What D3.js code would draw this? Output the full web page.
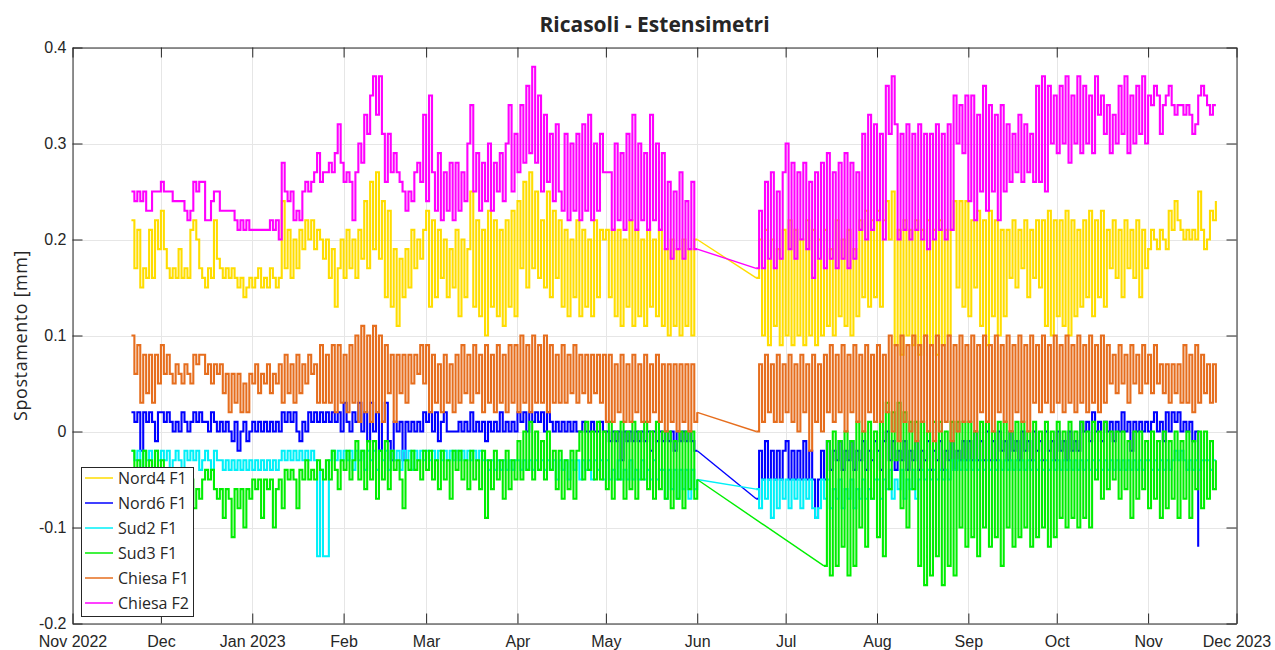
<!DOCTYPE html>
<html><head><meta charset="utf-8">
<script src="https://cdn.jsdelivr.net/npm/d3@7"></script>
<style>
body{margin:0;background:#fff}
svg{display:block}
text{font-family:"Open Sans",sans-serif;fill:#262626}
</style>
</head><body>
<svg id="chart" width="1275" height="650"></svg>
<script>
// ---------------- DATA (daily readings, mm) ----------------
const seriesNames  = ["Nord4 F1","Nord6 F1","Sud2 F1","Sud3 F1","Chiesa F1","Chiesa F2"];
const seriesColors = ["#FFDD00","#0000FF","#00F0F8","#00EE00","#E66E1E","#FF00FF"];
const startA = ["2022-11-21","2022-11-21","2022-11-21","2022-11-21","2022-11-21","2022-11-21"];
const startB = ["2023-06-21","2023-06-21","2023-06-21","2023-07-14","2023-06-21","2023-06-21"];
const xTickLabels = ["Nov 2022","Dec","Jan 2023","Feb","Mar","Apr","May","Jun","Jul","Aug","Sep","Oct","Nov","Dec 2023"];
const yTickValues = [-0.2,-0.1,0,0.1,0.2,0.3,0.4];
const yTickLabels = ["-0.2","-0.1","0","0.1","0.2","0.3","0.4"];

const nord4A = [
0.22,0.17,0.21,0.15,0.17,0.16,0.21,0.16,0.22,0.19,
0.23,0.19,0.17,0.16,0.17,0.16,0.19,0.16,0.17,0.16,0.21,0.22,0.20,0.17,0.16,0.15,0.17,0.16,0.22,0.18,0.17,0.16,0.17,0.16,0.17,0.16,0.15,0.16,0.14,0.15,0.16,
0.15,0.16,0.17,0.15,0.16,0.15,0.17,0.16,0.15,0.16,0.24,0.17,0.21,0.16,0.20,0.17,0.21,0.19,0.22,0.20,0.22,0.19,0.21,0.20,0.18,0.20,0.16,0.19,0.13,0.17,0.20,
0.16,0.21,0.17,0.20,0.16,0.21,0.18,0.24,0.17,0.26,0.19,0.27,0.18,0.24,0.14,0.23,0.13,0.19,0.11,0.18,0.14,0.19,0.15,0.21,0.17,0.20,0.18,0.21,
0.23,0.13,0.22,0.14,0.21,0.16,0.20,0.14,0.19,0.15,0.21,0.12,0.20,0.14,0.19,0.25,0.13,0.22,0.12,0.21,0.10,0.23,0.13,0.22,0.12,0.21,0.11,0.22,0.13,0.23,0.12,
0.24,0.17,0.26,0.15,0.27,0.17,0.25,0.16,0.22,0.15,0.25,0.14,0.23,0.16,0.22,0.13,0.21,0.12,0.20,0.14,0.22,0.12,0.21,0.13,0.20,0.12,0.22,0.14,0.21,0.20,
0.21,0.14,0.21,0.12,0.21,0.11,0.20,0.13,0.22,0.11,0.21,0.12,0.20,0.11,0.21,0.13,0.20,0.12,0.21,0.11,0.19,0.10,0.20,0.11,0.19,0.10,0.20,0.11,0.19,0.10,0.20,
0.20];
const nord4B = [
0.16,0.20,0.10,0.21,0.09,0.20,0.11,0.19,0.09,0.21,
0.10,0.22,0.09,0.21,0.10,0.20,0.09,0.22,0.10,0.21,0.09,0.20,0.10,0.21,0.11,0.19,0.10,0.22,0.12,0.20,0.11,0.21,0.10,0.19,0.12,0.22,0.14,0.23,0.13,0.22,0.14,
0.23,0.13,0.22,0.24,0.20,0.25,0.09,0.21,0.08,0.22,0.10,0.21,0.09,0.22,0.08,0.21,0.10,0.22,0.09,0.21,0.08,0.22,0.09,0.21,0.10,0.21,0.24,0.15,0.24,0.13,0.24,
0.12,0.22,0.15,0.23,0.11,0.22,0.09,0.23,0.12,0.22,0.10,0.21,0.12,0.21,0.16,0.22,0.15,0.21,0.17,0.22,0.14,0.21,0.16,0.22,0.15,0.22,0.11,0.23,0.10,0.22,
0.12,0.22,0.11,0.23,0.10,0.22,0.12,0.21,0.13,0.22,0.14,0.23,0.12,0.22,0.14,0.23,0.13,0.21,0.17,0.22,0.16,0.21,0.14,0.22,0.17,0.21,0.16,0.22,0.14,0.21,0.17,
0.19,0.21,0.20,0.19,0.21,0.20,0.19,0.23,0.21,0.24,0.22,0.21,0.20,0.21,0.20,0.21,0.20,0.25,0.21,0.19,0.20,0.23,0.22,0.24];

const nord6A = [
0.02,0.01,0.02,-0.02,0.02,0.01,0.02,0.01,-0.01,0.02,
0.02,0.01,0.02,0.01,0.00,0.01,0.00,0.02,0.01,0.00,0.01,0.02,0.01,0.02,0.01,0.01,0.00,0.02,0.01,0.00,0.01,0.00,0.01,0.00,-0.01,0.01,-0.02,0.00,0.01,-0.01,0.00,
0.01,0.00,0.01,0.00,0.01,0.00,0.01,0.00,0.01,0.00,0.02,0.01,0.02,0.01,0.02,0.00,-0.01,0.01,0.00,0.02,0.01,0.02,0.01,0.02,0.01,0.02,0.01,0.02,0.01,0.02,0.00,
0.03,0.01,0.00,0.02,0.01,0.03,0.00,0.02,-0.01,0.03,0.00,0.02,-0.02,0.01,0.03,-0.01,-0.03,0.01,0.00,0.01,-0.03,0.01,0.00,0.01,0.00,0.01,0.00,0.02,
0.01,0.02,0.00,0.02,-0.01,0.01,0.02,0.00,0.00,0.00,0.00,0.01,0.00,0.01,0.00,0.02,0.00,0.01,0.00,0.01,-0.01,0.01,0.00,0.01,0.00,0.02,0.00,0.01,0.00,0.01,0.00,
0.02,0.01,0.02,0.00,0.02,0.01,0.02,0.01,0.02,0.00,0.02,0.01,0.00,0.01,0.00,0.01,0.00,0.01,0.00,0.01,0.00,0.00,0.01,0.00,0.00,0.01,0.00,0.00,0.01,0.00,
0.00,-0.01,0.00,-0.01,0.00,-0.03,0.00,-0.01,0.00,-0.01,0.00,-0.01,0.00,-0.01,0.00,-0.02,0.00,-0.01,0.00,-0.01,0.00,-0.01,0.00,-0.02,0.00,-0.01,0.00,-0.01,0.00,-0.01,-0.02,
-0.02];
const nord6B = [
-0.07,-0.02,-0.05,-0.01,-0.05,-0.02,-0.05,-0.02,-0.05,-0.02,
-0.01,-0.05,-0.02,-0.05,-0.02,-0.05,-0.01,-0.05,-0.02,-0.05,-0.09,-0.05,-0.02,-0.05,-0.01,-0.04,-0.02,-0.03,-0.01,-0.04,-0.02,-0.03,-0.01,-0.04,-0.02,-0.03,-0.01,-0.04,-0.02,-0.03,-0.01,
-0.02,-0.04,-0.01,0.00,-0.03,-0.01,-0.04,-0.02,-0.03,-0.01,-0.04,-0.02,-0.03,-0.01,-0.04,-0.02,-0.03,-0.01,-0.04,-0.02,-0.03,-0.01,-0.04,-0.02,-0.03,-0.01,-0.04,-0.02,-0.03,-0.01,-0.03,
-0.01,-0.03,0.00,-0.03,-0.01,-0.03,0.00,-0.03,-0.01,-0.03,0.00,-0.02,-0.01,-0.03,0.00,-0.02,-0.01,-0.03,0.00,-0.02,-0.01,-0.03,0.00,-0.02,-0.01,-0.03,0.00,-0.02,-0.01,-0.03,
0.00,-0.02,-0.01,-0.03,0.00,-0.02,-0.01,-0.02,0.01,0.00,0.01,-0.01,0.02,0.00,0.01,-0.01,0.01,0.00,0.01,-0.01,0.01,0.00,0.02,0.00,0.01,-0.02,0.01,0.00,0.01,0.00,0.01,
0.00,0.01,0.02,0.00,0.01,-0.01,0.02,0.00,0.02,0.01,0.02,0.00,0.01,0.00,0.01,-0.01,0.00,-0.12];

const sud2A = [
-0.02,-0.03,-0.02,-0.04,-0.02,-0.03,-0.02,-0.04,-0.02,-0.03,
-0.02,-0.03,-0.02,-0.04,-0.03,-0.02,-0.03,-0.04,-0.02,-0.03,-0.02,-0.03,-0.02,-0.04,-0.03,-0.02,-0.03,-0.04,-0.02,-0.03,-0.03,-0.04,-0.03,-0.04,-0.03,-0.04,-0.03,-0.04,-0.03,-0.04,-0.03,
-0.04,-0.03,-0.04,-0.03,-0.04,-0.03,-0.04,-0.03,-0.04,-0.03,-0.02,-0.03,-0.02,-0.03,-0.02,-0.03,-0.02,-0.03,-0.02,-0.03,-0.02,-0.03,-0.13,-0.04,-0.13,-0.13,-0.03,-0.02,-0.03,-0.02,-0.03,
-0.02,-0.03,-0.02,-0.04,-0.02,-0.03,-0.02,-0.04,-0.02,-0.03,-0.02,-0.04,-0.02,-0.03,-0.02,-0.04,-0.02,-0.03,-0.02,-0.04,-0.02,-0.03,-0.02,-0.04,-0.02,-0.03,-0.02,-0.03,
-0.02,-0.03,-0.02,-0.03,-0.02,-0.03,-0.02,-0.03,-0.02,-0.03,-0.02,-0.03,-0.02,-0.03,-0.02,-0.03,-0.02,-0.03,-0.02,-0.03,-0.03,-0.04,-0.03,-0.04,-0.03,-0.04,-0.03,-0.04,-0.03,-0.04,-0.03,
-0.03,-0.04,-0.03,-0.04,-0.03,-0.04,-0.03,-0.04,-0.03,-0.04,-0.03,-0.04,-0.03,-0.05,-0.03,-0.04,-0.03,-0.05,-0.03,-0.04,-0.03,-0.05,-0.03,-0.04,-0.03,-0.05,-0.03,-0.04,-0.03,-0.05,
-0.03,-0.05,-0.04,-0.05,-0.03,-0.05,-0.04,-0.05,-0.03,-0.05,-0.04,-0.05,-0.03,-0.05,-0.04,-0.05,-0.03,-0.05,-0.04,-0.04,-0.07,-0.04,-0.06,-0.04,-0.07,-0.04,-0.06,-0.04,-0.07,-0.04,-0.06,
-0.05];
const sud2B = [
-0.06,-0.08,-0.05,-0.07,-0.05,-0.09,-0.05,-0.08,-0.05,-0.07,
-0.05,-0.08,-0.05,-0.07,-0.05,-0.08,-0.05,-0.07,-0.05,-0.08,-0.09,-0.08,-0.05,-0.07,-0.05,-0.08,-0.06,-0.07,-0.05,-0.08,-0.06,-0.07,-0.05,-0.08,-0.06,-0.07,-0.05,-0.07,-0.06,-0.07,-0.05,
-0.05,-0.07,-0.05,-0.06,-0.04,-0.07,-0.05,-0.06,-0.04,-0.07,-0.05,-0.06,-0.04,-0.07,-0.05,-0.04,-0.05,-0.04,-0.05,-0.04,-0.05,-0.04,-0.05,-0.04,-0.05,-0.03,-0.04,-0.03,-0.04,-0.03,-0.04,
-0.03,-0.04,-0.03,-0.04,-0.03,-0.04,-0.03,-0.04,-0.03,-0.04,-0.03,-0.04,-0.03,-0.04,-0.03,-0.04,-0.03,-0.04,-0.03,-0.04,-0.03,-0.04,-0.03,-0.04,-0.03,-0.04,-0.03,-0.04,-0.03,-0.04,
-0.03,-0.04,-0.03,-0.04,-0.03,-0.04,-0.03,-0.04,-0.03,-0.04,-0.03,-0.04,-0.03,-0.04,-0.03,-0.04,-0.03,-0.04,-0.03,-0.04,-0.03,-0.04,-0.03,-0.04,-0.03,-0.04,-0.03,-0.04,-0.03,-0.04,-0.03,
-0.03,-0.04,-0.03,-0.04,-0.03,-0.04,-0.03,-0.04,-0.03,-0.02,-0.03,-0.02,-0.03,-0.04,-0.03,-0.04,-0.03,-0.04,-0.03,-0.03,-0.03,-0.04,-0.03,-0.03];

const sud3A = [
-0.02,-0.05,-0.03,-0.05,-0.02,-0.04,-0.03,-0.07,-0.02,-0.05,
-0.03,-0.05,-0.04,-0.05,-0.04,-0.06,-0.04,-0.05,-0.05,-0.07,-0.05,-0.08,-0.06,-0.07,-0.05,-0.04,-0.05,-0.04,-0.06,-0.07,-0.06,-0.09,-0.06,-0.07,-0.11,-0.06,-0.08,-0.06,-0.10,-0.06,-0.07,
-0.05,-0.06,-0.05,-0.09,-0.05,-0.06,-0.05,-0.10,-0.06,-0.05,-0.08,-0.04,-0.05,-0.04,-0.05,-0.08,-0.04,-0.05,-0.03,-0.05,-0.04,-0.05,-0.03,-0.04,-0.05,-0.03,-0.05,-0.02,-0.04,-0.06,-0.03,
-0.04,-0.02,-0.05,-0.03,-0.01,-0.05,-0.02,-0.06,-0.01,-0.05,-0.01,-0.07,-0.02,-0.05,-0.01,-0.06,-0.02,-0.04,-0.03,-0.05,-0.08,-0.03,-0.04,-0.02,-0.04,-0.03,-0.05,-0.02,
-0.04,-0.02,-0.05,-0.03,-0.06,-0.02,-0.05,-0.03,-0.07,-0.02,-0.04,-0.02,-0.05,-0.03,-0.06,-0.02,-0.05,-0.03,-0.06,-0.02,-0.09,-0.03,-0.06,-0.02,-0.05,-0.03,-0.07,-0.02,-0.06,-0.03,-0.05,
-0.01,-0.05,0.00,-0.04,0.01,-0.05,0.00,-0.04,-0.01,-0.05,0.00,-0.04,-0.02,-0.06,-0.02,-0.07,-0.03,-0.06,-0.02,-0.07,-0.02,0.00,-0.05,0.01,-0.04,0.00,-0.05,0.01,-0.05,0.00,
-0.06,0.01,-0.07,0.00,-0.05,0.01,-0.07,0.00,-0.06,0.01,-0.07,0.00,-0.05,0.01,-0.06,0.00,-0.07,0.01,-0.06,0.00,-0.07,0.00,-0.08,-0.01,-0.07,0.00,-0.08,0.00,-0.06,0.00,-0.07,
-0.05];
const sud3B = [
-0.14,-0.01,-0.15,0.00,-0.14,-0.01,-0.12,0.00,-0.15,-0.01,-0.14,0.01,-0.10,0.00,-0.12,0.01,-0.07,0.00,
-0.11,0.01,-0.13,0.03,-0.06,0.02,-0.03,0.03,-0.08,0.02,-0.10,0.01,-0.06,0.01,-0.14,0.01,-0.16,0.00,-0.15,0.01,-0.13,0.01,-0.16,0.00,-0.14,0.01,-0.15,0.01,-0.10,0.01,-0.12,
0.01,-0.11,0.00,-0.13,0.01,-0.10,0.01,-0.12,0.00,-0.11,0.01,-0.14,0.01,-0.10,0.00,-0.12,0.01,-0.11,0.01,-0.10,0.00,-0.12,0.01,-0.11,0.00,-0.10,0.01,-0.12,0.00,-0.11,
0.01,-0.09,0.00,-0.10,0.01,-0.09,0.00,-0.10,0.01,-0.09,0.00,-0.10,0.01,-0.05,0.00,-0.07,0.01,-0.06,0.00,-0.05,0.00,-0.07,0.00,-0.06,-0.01,-0.09,0.00,-0.07,0.00,-0.06,-0.01,
-0.08,0.00,-0.07,-0.01,-0.09,0.00,-0.08,-0.01,-0.07,0.00,-0.09,-0.01,-0.07,0.00,-0.09,-0.01,-0.06,0.00,-0.08,0.00,-0.07,-0.01,-0.06,-0.03];

const chiesaF1A = [
0.10,0.06,0.09,0.03,0.08,0.04,0.08,0.03,0.08,0.05,
0.09,0.06,0.08,0.06,0.05,0.07,0.06,0.05,0.07,0.06,0.05,0.08,0.07,0.08,0.08,0.06,0.07,0.05,0.07,0.06,0.07,0.04,0.06,0.02,0.06,0.03,0.06,0.02,0.05,0.02,0.06,
0.05,0.07,0.04,0.06,0.05,0.07,0.04,0.06,0.05,0.07,0.03,0.08,0.04,0.07,0.03,0.08,0.04,0.07,0.05,0.08,0.06,0.07,0.03,0.09,0.03,0.08,0.03,0.09,0.02,0.09,0.03,
0.08,0.02,0.09,0.03,0.10,0.01,0.11,0.02,0.10,0.01,0.11,0.02,0.10,0.01,0.09,0.04,0.08,0.01,0.08,0.04,0.08,0.03,0.08,0.05,0.08,0.06,0.09,0.05,
0.09,0.02,0.08,0.03,0.07,0.02,0.08,0.03,0.07,0.02,0.08,0.03,0.09,0.04,0.08,0.03,0.09,0.04,0.08,0.02,0.09,0.03,0.08,0.02,0.09,0.03,0.08,0.02,0.09,0.03,0.09,
0.02,0.10,0.03,0.09,0.02,0.10,0.03,0.09,0.03,0.10,0.02,0.09,0.03,0.08,0.03,0.09,0.03,0.08,0.04,0.09,0.03,0.08,0.04,0.08,0.03,0.08,0.04,0.08,0.03,0.08,
0.01,0.08,0.01,0.07,0.02,0.08,0.01,0.07,0.01,0.08,0.02,0.07,0.01,0.08,0.01,0.07,0.02,0.08,0.01,0.07,0.00,0.07,0.01,0.07,0.00,0.07,0.01,0.07,0.00,0.07,0.01,
0.02];
const chiesaF1B = [
0.00,0.07,0.01,0.08,0.02,0.07,0.01,0.08,0.01,0.07,
0.02,0.08,0.01,0.07,0.00,0.08,0.02,0.07,-0.02,0.08,0.01,0.07,0.00,0.08,0.02,0.09,0.01,0.08,0.02,0.09,0.00,0.08,0.02,0.09,0.01,0.08,0.00,0.09,0.02,0.08,0.01,
0.09,0.01,0.08,0.02,0.10,0.00,0.09,-0.01,0.10,0.01,0.09,0.00,0.10,-0.01,0.09,0.01,0.10,0.00,0.09,-0.01,0.10,0.00,0.09,0.01,0.10,-0.01,0.09,0.00,0.10,0.01,0.09,
0.01,0.10,0.00,0.09,0.02,0.10,0.01,0.09,0.00,0.10,0.02,0.09,0.01,0.10,0.00,0.09,0.02,0.10,0.01,0.09,0.00,0.10,0.03,0.09,0.02,0.10,0.03,0.09,0.02,0.10,
0.03,0.09,0.02,0.10,0.03,0.09,0.02,0.10,0.03,0.09,0.02,0.10,0.03,0.09,0.02,0.10,0.03,0.09,0.05,0.08,0.04,0.09,0.05,0.08,0.03,0.09,0.05,0.08,0.04,0.09,0.05,
0.08,0.04,0.09,0.05,0.07,0.04,0.07,0.03,0.07,0.04,0.07,0.03,0.09,0.03,0.08,0.02,0.09,0.03,0.08,0.04,0.07,0.03,0.07,0.03];

const chiesaF2A = [
0.25,0.24,0.25,0.24,0.25,0.23,0.23,0.25,0.25,0.25,
0.26,0.25,0.25,0.25,0.24,0.24,0.24,0.24,0.23,0.22,0.23,0.26,0.25,0.26,0.26,0.22,0.22,0.24,0.25,0.25,0.23,0.23,0.23,0.23,0.23,0.22,0.21,0.22,0.21,0.22,0.21,
0.21,0.21,0.21,0.21,0.21,0.21,0.22,0.21,0.22,0.20,0.28,0.25,0.24,0.25,0.22,0.23,0.22,0.25,0.26,0.25,0.26,0.27,0.29,0.26,0.27,0.27,0.28,0.27,0.29,0.32,0.28,
0.26,0.27,0.26,0.22,0.27,0.30,0.28,0.33,0.31,0.35,0.37,0.33,0.37,0.31,0.26,0.31,0.27,0.29,0.27,0.26,0.25,0.23,0.25,0.24,0.27,0.28,0.26,0.33,
0.24,0.35,0.27,0.23,0.29,0.22,0.27,0.23,0.28,0.22,0.28,0.23,0.27,0.24,0.30,0.34,0.25,0.29,0.23,0.28,0.24,0.30,0.23,0.28,0.25,0.29,0.24,0.30,0.34,0.25,0.31,
0.27,0.34,0.28,0.36,0.29,0.38,0.28,0.35,0.25,0.33,0.26,0.31,0.24,0.32,0.25,0.23,0.31,0.22,0.30,0.23,0.31,0.22,0.32,0.23,0.33,0.22,0.30,0.23,0.31,0.27,
0.27,0.27,0.21,0.30,0.22,0.29,0.21,0.31,0.22,0.33,0.21,0.30,0.22,0.29,0.21,0.33,0.22,0.30,0.21,0.29,0.19,0.26,0.18,0.25,0.19,0.27,0.18,0.24,0.19,0.26,0.19,
0.19];
const chiesaF2B = [
0.17,0.23,0.17,0.26,0.18,0.27,0.17,0.25,0.18,0.27,
0.30,0.19,0.28,0.18,0.27,0.20,0.28,0.19,0.26,0.16,0.27,0.18,0.28,0.17,0.29,0.18,0.27,0.17,0.28,0.18,0.29,0.17,0.28,0.18,0.27,0.21,0.31,0.20,0.33,0.21,0.32,
0.22,0.31,0.20,0.36,0.31,0.37,0.32,0.20,0.31,0.21,0.32,0.20,0.31,0.21,0.32,0.20,0.31,0.19,0.31,0.20,0.32,0.21,0.31,0.20,0.32,0.21,0.35,0.30,0.34,0.29,0.35,
0.24,0.35,0.22,0.33,0.25,0.36,0.23,0.34,0.25,0.33,0.22,0.34,0.25,0.32,0.26,0.31,0.27,0.33,0.26,0.32,0.27,0.31,0.26,0.36,0.26,0.37,0.25,0.36,0.30,0.35,
0.29,0.36,0.30,0.37,0.28,0.35,0.30,0.37,0.29,0.36,0.30,0.35,0.29,0.37,0.33,0.35,0.31,0.34,0.29,0.33,0.30,0.36,0.31,0.37,0.29,0.35,0.30,0.36,0.31,0.37,0.30,
0.35,0.34,0.36,0.35,0.31,0.34,0.35,0.36,0.34,0.33,0.34,0.34,0.33,0.34,0.33,0.31,0.32,0.35,0.36,0.35,0.34,0.33,0.34,0.34];

const segmentsA = [nord4A, nord6A, sud2A, sud3A, chiesaF1A, chiesaF2A];
const segmentsB = [nord4B, nord6B, sud2B, sud3B, chiesaF1B, chiesaF2B];

// ---------------- DRAWING ----------------
const svg = d3.select("#chart");
const parse = d3.utcParse("%Y-%m-%d");
const L = 72.5, R = 1236.5, T = 47.5, B = 623.5;
const x = d3.scaleUtc().domain([parse("2022-11-01"), parse("2023-12-01")]).range([L, R]);
const y = d3.scaleLinear().domain([-0.2, 0.4]).range([B, T]);
const monthTicks = d3.utcMonth.range(parse("2022-11-01"), d3.utcDay.offset(parse("2023-12-01"), 1));

svg.append("rect").attr("width",1275).attr("height",650).attr("fill","#fff");

// grid
const grid = svg.append("g").attr("stroke","#e6e6e6").attr("stroke-width",1);
grid.selectAll("line.v").data(monthTicks).join("line").attr("class","v")
  .attr("x1",d=>Math.round(x(d))+0.5).attr("x2",d=>Math.round(x(d))+0.5).attr("y1",T).attr("y2",B);
grid.selectAll("line.h").data(yTickValues).join("line").attr("class","h")
  .attr("y1",d=>Math.round(y(d))+0.5).attr("y2",d=>Math.round(y(d))+0.5).attr("x1",L).attr("x2",R);

svg.append("clipPath").attr("id","clip").append("rect")
  .attr("x",L).attr("y",T).attr("width",R-L).attr("height",B-T);

const toPts = (start, arr) => { const s = parse(start); return arr.map((v,i)=>({t:d3.utcDay.offset(s,i), v})); };
const stepLine = d3.line().x(d=>x(d.t)).y(d=>y(d.v)).curve(d3.curveStepAfter);
const straight = d3.line().x(d=>x(d.t)).y(d=>y(d.v));

const plot = svg.append("g").attr("clip-path","url(#clip)");
seriesNames.forEach((name,k)=>{
  const a = toPts(startA[k], segmentsA[k]);
  const b = toPts(startB[k], segmentsB[k]);
  const g = plot.append("g").attr("fill","none").attr("stroke",seriesColors[k])
    .attr("stroke-width",2.1).attr("stroke-linejoin","miter");
  g.append("path").attr("d", stepLine(a));
  g.append("path").attr("d", straight([a[a.length-1], b[0]])).attr("stroke-width",1.4);
  g.append("path").attr("d", stepLine(b));
});

// axes
const axCol = "#262626";
function styleAxis(g){
  g.selectAll(".domain").attr("stroke",axCol).attr("stroke-width",1);
  g.selectAll(".tick line").attr("stroke",axCol).attr("stroke-width",1);
  g.selectAll(".tick text").attr("fill",axCol).style("font-size","16px").style("font-family","'Liberation Sans',Arial,sans-serif");
}
svg.append("g").attr("transform",`translate(0,${B})`)
  .call(d3.axisBottom(x).tickValues(monthTicks).tickFormat((d,i)=>xTickLabels[i]).tickSizeInner(-10).tickSizeOuter(0).tickPadding(12))
  .call(styleAxis);
svg.append("g").attr("transform",`translate(0,${T})`)
  .call(d3.axisTop(x).tickValues(monthTicks).tickFormat("").tickSizeInner(-10).tickSizeOuter(0))
  .call(styleAxis);
svg.append("g").attr("transform",`translate(${L},0)`)
  .call(d3.axisLeft(y).tickValues(yTickValues).tickFormat((d,i)=>yTickLabels[i]).tickSizeInner(-10).tickSizeOuter(0).tickPadding(6))
  .call(styleAxis);
svg.append("g").attr("transform",`translate(${R},0)`)
  .call(d3.axisRight(y).tickValues(yTickValues).tickFormat("").tickSizeInner(-10).tickSizeOuter(0))
  .call(styleAxis);

// title & label
svg.append("text").attr("x",(L+R)/2).attr("y",32).attr("text-anchor","middle")
  .style("font-size","21px").style("font-weight","700").attr("fill","#000").text("Ricasoli - Estensimetri");
svg.append("text").attr("transform",`translate(27,${(T+B)/2}) rotate(-90)`).attr("text-anchor","middle")
  .style("font-size","18px").style("letter-spacing","0.6px").attr("fill",axCol).text("Spostamento [mm]");

// legend
const lg = svg.append("g");
lg.append("rect").attr("x",81.5).attr("y",467.5).attr("width",112).attr("height",149)
  .attr("fill","#fff").attr("stroke",axCol).attr("stroke-width",1);
seriesNames.forEach((name,k)=>{
  const yy = 478 + k*25;
  lg.append("line").attr("x1",85).attr("x2",113).attr("y1",yy).attr("y2",yy)
    .attr("stroke",seriesColors[k]).attr("stroke-width",1.5);
  lg.append("text").attr("x",118).attr("y",yy+5.5).style("font-size","16px").attr("fill","#000").text(name);
});
</script>
</body></html>
